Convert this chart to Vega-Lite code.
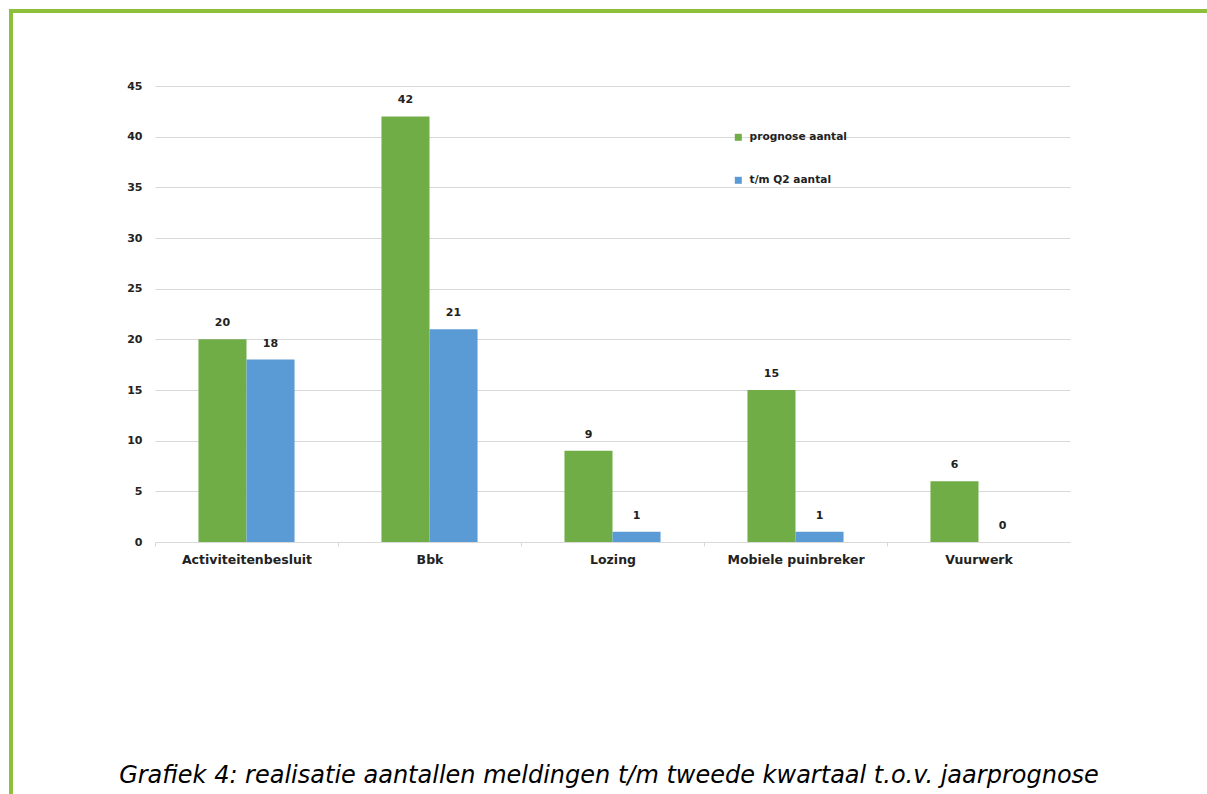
{
  "$schema": "https://vega.github.io/schema/vega-lite/v6.json",
  "width": 1196,
  "height": 783,
  "autosize": {"type": "none"},
  "padding": {"left": 11, "top": 11, "right": 0, "bottom": 0},
  "background": "white",
  "config": {
    "view": {"stroke": "#8cbf3c", "strokeWidth": 4, "strokeDash": [1196, 1979, 783], "fill": "white"},
    "font": "DejaVu Sans"
  },
  "title": {
    "text": "Grafiek 4: realisatie aantallen meldingen t/m tweede kwartaal t.o.v. jaarprognose",
    "orient": "bottom",
    "anchor": "middle",
    "frame": "group",
    "offset": -11,
    "baseline": "alphabetic",
    "font": "DejaVu Sans",
    "fontSize": 24,
    "fontStyle": "italic",
    "fontWeight": "normal",
    "color": "#000000"
  },
  "data": {
    "values": [
      {"categorie": "Activiteitenbesluit", "reeks": "prognose aantal", "aantal": 20},
      {"categorie": "Activiteitenbesluit", "reeks": "t/m Q2 aantal", "aantal": 18},
      {"categorie": "Bbk", "reeks": "prognose aantal", "aantal": 42},
      {"categorie": "Bbk", "reeks": "t/m Q2 aantal", "aantal": 21},
      {"categorie": "Lozing", "reeks": "prognose aantal", "aantal": 9},
      {"categorie": "Lozing", "reeks": "t/m Q2 aantal", "aantal": 1},
      {"categorie": "Mobiele puinbreker", "reeks": "prognose aantal", "aantal": 15},
      {"categorie": "Mobiele puinbreker", "reeks": "t/m Q2 aantal", "aantal": 1},
      {"categorie": "Vuurwerk", "reeks": "prognose aantal", "aantal": 6},
      {"categorie": "Vuurwerk", "reeks": "t/m Q2 aantal", "aantal": 0}
    ]
  },
  "encoding": {
    "x": {
      "field": "categorie",
      "type": "nominal",
      "sort": null,
      "scale": {"range": [144, 1059], "paddingInner": 0.475, "paddingOuter": 0.2375},
      "axis": {
        "title": null,
        "offset": -252,
        "grid": false,
        "domainColor": "#d9d9d9",
        "tickColor": "#d9d9d9",
        "tickSize": 4,
        "tickOffset": -91.5,
        "labelOffset": 91.5,
        "labelPadding": 7,
        "labelAngle": 0,
        "labelBaseline": "top",
        "labelFont": "DejaVu Sans",
        "labelFontSize": 12.5,
        "labelFontWeight": "bold",
        "labelColor": "#222222"
      }
    },
    "xOffset": {
      "field": "reeks",
      "type": "nominal",
      "sort": ["prognose aantal", "t/m Q2 aantal"],
      "scale": {"paddingInner": 0, "paddingOuter": 0}
    },
    "y": {
      "field": "aantal",
      "type": "quantitative",
      "scale": {"domain": [0, 45], "range": [531, 75], "nice": false, "zero": true},
      "axis": {
        "title": null,
        "offset": -144,
        "values": [0, 5, 10, 15, 20, 25, 30, 35, 40, 45],
        "grid": true,
        "gridColor": "#d9d9d9",
        "domain": false,
        "ticks": false,
        "labelPadding": 13,
        "labelFont": "DejaVu Sans",
        "labelFontSize": 11,
        "labelFontWeight": "bold",
        "labelColor": "#222222"
      }
    }
  },
  "layer": [
    {
      "mark": {"type": "bar"},
      "encoding": {
        "color": {
          "field": "reeks",
          "type": "nominal",
          "sort": ["prognose aantal", "t/m Q2 aantal"],
          "scale": {"domain": ["prognose aantal", "t/m Q2 aantal"], "range": ["#70ad47", "#5b9bd5"]},
          "legend": {
            "orient": "none",
            "legendX": 722,
            "legendY": 121,
            "title": null,
            "padding": 0,
            "symbolType": "square",
            "symbolSize": 49,
            "symbolStrokeWidth": 0,
            "labelFont": "DejaVu Sans",
            "labelFontSize": 10.6,
            "labelFontWeight": "bold",
            "labelColor": "#222222",
            "labelOffset": 6,
            "rowPadding": 32
          }
        }
      }
    },
    {
      "mark": {"type": "text", "dy": -13, "baseline": "alphabetic", "font": "DejaVu Sans", "fontWeight": "bold", "fontSize": 11, "color": "#222222"},
      "encoding": {"text": {"field": "aantal", "type": "quantitative"}}
    }
  ]
}
